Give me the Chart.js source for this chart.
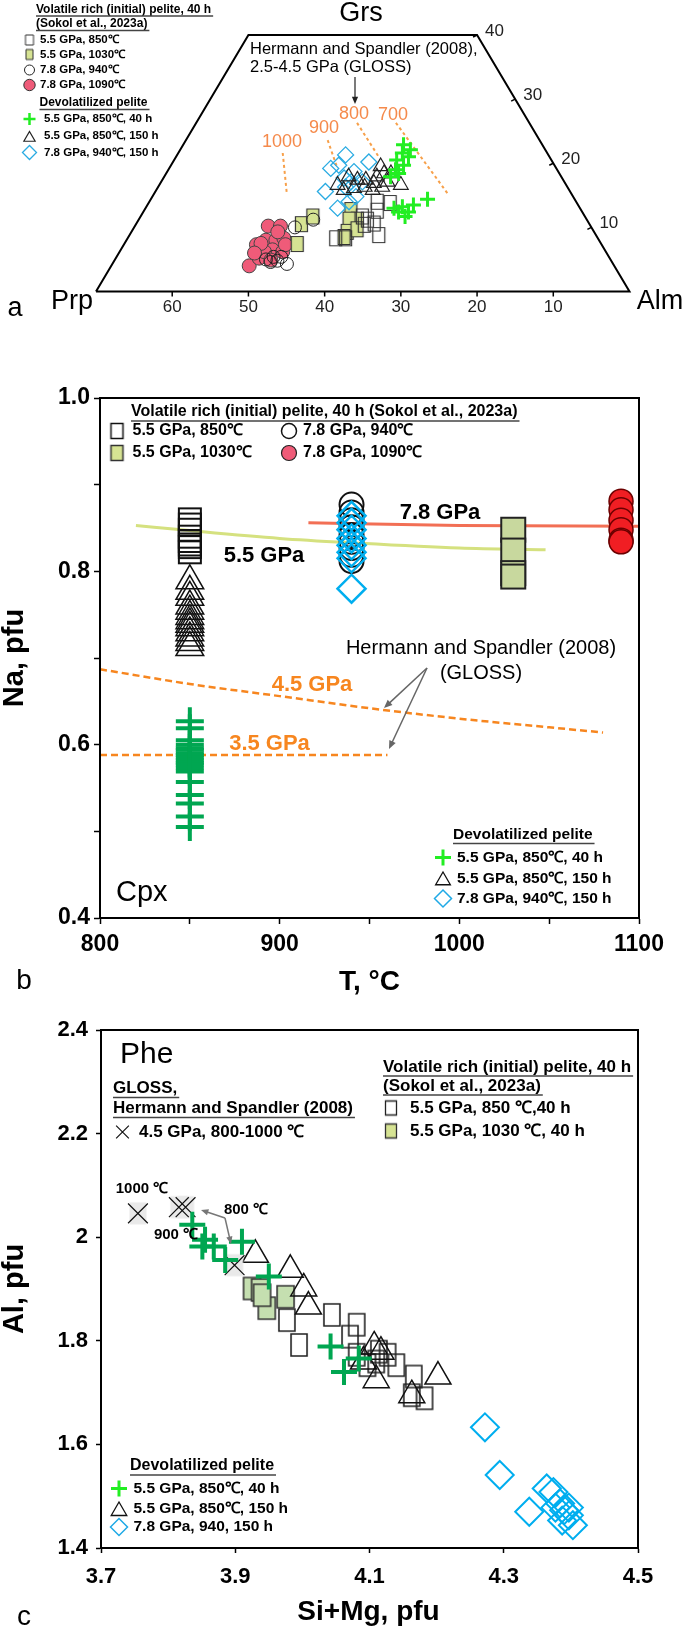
<!DOCTYPE html>
<html>
<head>
<meta charset="utf-8">
<script src="https://cdn.jsdelivr.net/npm/chart.js@4.4.0/dist/chart.umd.min.js"></script>
<style>
  html, body { margin: 0; padding: 0; background: #fff; }
  #wrap { position: relative; width: 685px; height: 1629px; overflow: hidden; }
  .panel { position: absolute; left: 0; width: 685px; }
</style>
</head>
<body>
<div id="wrap">
  <div class="panel" style="top:0;height:330px"><canvas id="grtChart"></canvas></div>
  <div class="panel" style="top:330px;height:670px"><canvas id="cpxChart"></canvas></div>
  <div class="panel" style="top:1000px;height:629px"><canvas id="pheChart"></canvas></div>
</div>
<script>
// ---------- a: garnet, points as [Prp, Grs] (Alm is the rest)
const grtFrame = [[70, 0], [30, 40], [0, 40], [0, 0], [70, 0]];
const grtPrpTicks = [60, 50, 40, 30, 20, 10];
const grtGrsTicks = [10, 20, 30, 40];
const grtSq850 = [[34.4, 8.3], [33.1, 8.3], [26.1, 14.0], [26.8, 12.6], [28.2, 10.6], [28.5, 8.8], [29.6, 10.4], [24.5, 13.8], [29.2, 11.7], [28.8, 11.2]];
const grtSq1030 = [[37.8, 10.5], [35.7, 11.7], [39.9, 7.4], [30.2, 12.7], [30.1, 11.2], [31.2, 11.2], [32.4, 9.3], [30.9, 9.7], [33.2, 8.5]];
const grtCi940 = [[44.8, 4.6], [43.8, 4.8], [42.8, 4.3], [43.0, 5.4], [45.2, 5.0], [38.9, 10.0], [35.9, 11.2], [44.0, 5.4]];
const grtCi1090 = [[47.9, 4.0], [45.3, 7.3], [46.0, 5.2], [42.3, 10.2], [40.7, 10.2], [43.7, 8.0], [42.4, 8.0], [41.2, 8.3], [43.6, 6.5], [42.4, 6.2], [44.8, 6.2], [44.6, 7.5], [41.5, 9.3], [44.6, 4.9], [46.2, 6.0], [41.5, 7.3]];
const grtPl40 = [[18.2, 22.9], [19.0, 21.6], [18.5, 21.0], [20.3, 20.5], [19.8, 19.7], [21.2, 19.0], [22.4, 17.9], [21.1, 18.4], [17.7, 22.1], [24.4, 13.0], [23.2, 13.2], [22.8, 12.4], [23.6, 11.7], [19.3, 14.4], [21.6, 13.5], [24.1, 12.4]];
const grtTr150 = [[30.0, 16.6], [27.9, 17.9], [27.0, 17.4], [25.9, 17.4], [25.1, 16.9], [22.9, 19.5], [23.0, 18.4], [22.1, 18.4], [21.7, 16.6], [24.2, 17.9], [23.2, 17.1], [29.6, 15.8], [28.1, 16.1], [24.3, 16.3], [26.6, 16.3], [25.8, 15.8]];
const grtDi150 = [[26.6, 21.3], [29.6, 19.2], [28.3, 19.7], [24.1, 20.2], [26.8, 18.7], [32.1, 15.6], [31.8, 13.0], [29.8, 14.0], [28.5, 14.8], [26.5, 17.1], [29.1, 16.3], [28.6, 17.7], [28.0, 17.1]];
const iso1000 = [[34.7, 21.6], [37.4, 15.1]];
const iso900 = [[27.8, 23.6], [28.7, 19.3]];
const iso800 = [[22.6, 26.3], [22.4, 21.0]];
const iso700 = [[17.5, 26.3], [16.2, 15.1]];

// ---------- b: Cpx, Na (pfu) by run temperature
const cpxTTicks = [800, 850, 900, 950, 1000, 1050, 1100];
const cpxTLabels = [800, 900, 1000, 1100];
const cpxNaTicks = [0.4, 0.5, 0.6, 0.7, 0.8, 0.9, 1.0];
const cpxNaLabels = [0.4, 0.6, 0.8, 1.0];
const cpxSq850 = [0.860, 0.854, 0.848, 0.840, 0.835, 0.831, 0.828, 0.822];
const cpxTr850 = [0.789, 0.777, 0.770, 0.760, 0.754, 0.748, 0.743, 0.739, 0.735, 0.729, 0.723, 0.718, 0.712];
const cpxPl850 = [0.627, 0.619, 0.605, 0.600, 0.596, 0.594, 0.590, 0.588, 0.585, 0.582, 0.579, 0.577, 0.573, 0.569, 0.557, 0.542, 0.532, 0.517, 0.505];
const cpxCi940 = [0.877, 0.868, 0.859, 0.851, 0.842, 0.834, 0.827, 0.819, 0.812];
const cpxDi940 = [0.864, 0.856, 0.848, 0.838, 0.830, 0.822, 0.815, 0.780];
const cpxSq1030 = [0.848, 0.824, 0.798, 0.794];
const cpxCi1090 = [0.881, 0.871, 0.859, 0.848, 0.836, 0.834];
const line55T = [820, 850, 900, 940, 1000, 1048];
const line55Na = [0.853, 0.847, 0.838, 0.833, 0.827, 0.825];
const line78T = [916, 1000, 1100];
const line78Na = [0.856, 0.853, 0.852];
const gloss45T = [800, 850, 900, 950, 1000, 1050, 1080];
const gloss45Na = [0.687, 0.670, 0.656, 0.642, 0.630, 0.620, 0.614];
const gloss35T = [800, 960];
const gloss35Na = [0.588, 0.588];

// ---------- c: Phe, points as [Si+Mg, Al]
const pheXTicks = [3.7, 3.9, 4.1, 4.3, 4.5];
const pheYTicks = [1.4, 1.6, 1.8, 2.0, 2.2, 2.4];
const pheGloss = [[3.755, 2.046], [3.816, 2.058], [3.826, 2.058], [3.899, 1.946]];
const phePl40 = [[3.836, 2.024], [3.855, 1.995], [3.851, 1.982], [3.868, 1.982], [3.885, 1.956], [3.910, 1.991], [3.950, 1.924], [4.042, 1.789], [4.062, 1.740], [4.084, 1.766]];
const pheTr150 = [[3.930, 1.966], [3.982, 1.937], [4.002, 1.901], [4.009, 1.866], [4.107, 1.789], [4.091, 1.760], [4.110, 1.724], [4.163, 1.695], [4.202, 1.731], [4.117, 1.779]];
const pheSq850 = [[3.977, 1.840], [3.995, 1.792], [4.044, 1.850], [4.081, 1.831], [4.071, 1.808], [4.081, 1.773], [4.097, 1.753], [4.114, 1.779], [4.127, 1.773], [4.140, 1.753], [4.166, 1.731], [4.163, 1.695], [4.182, 1.689], [4.110, 1.760]];
const pheSq1030 = [[3.925, 1.901], [3.937, 1.898], [3.947, 1.863], [3.975, 1.885], [3.940, 1.888]];
const pheDi150 = [[4.272, 1.633], [4.294, 1.541], [4.338, 1.470], [4.364, 1.515], [4.374, 1.508], [4.384, 1.486], [4.390, 1.473], [4.397, 1.463], [4.403, 1.444], [4.377, 1.478], [4.387, 1.453], [4.397, 1.478]];

const FONT = "'Liberation Sans', Arial, Helvetica, sans-serif";

// rectangular marker that is not square -> small canvas used as pointStyle
function box(w, h, fill, stroke, lw) {
  const c = document.createElement('canvas');
  c.width = Math.ceil(w + lw * 2 + 2);
  c.height = Math.ceil(h + lw * 2 + 2);
  const g = c.getContext('2d');
  g.beginPath();
  g.rect((c.width - w) / 2, (c.height - h) / 2, w, h);
  if (fill) { g.fillStyle = fill; g.fill(); }
  g.strokeStyle = stroke; g.lineWidth = lw; g.stroke();
  return { img: c };
}
function mark(shape, r, stroke, lw, fill) {
  return { shape, r, stroke, lw, fill };
}

function drawMark(ctx, m, x, y) {
  ctx.save();
  if (m.img) {
    ctx.drawImage(m.img, x - m.img.width / 2, y - m.img.height / 2);
    ctx.restore();
    return;
  }
  const r = m.r;
  ctx.lineWidth = m.lw;
  ctx.strokeStyle = m.stroke;
  ctx.beginPath();
  if (m.shape === 'circle') ctx.arc(x, y, r, 0, Math.PI * 2);
  if (m.shape === 'triangle') { ctx.moveTo(x, y - r); ctx.lineTo(x + r * 0.866, y + r / 2); ctx.lineTo(x - r * 0.866, y + r / 2); ctx.closePath(); }
  if (m.shape === 'rectRot') { ctx.moveTo(x - r, y); ctx.lineTo(x, y - r); ctx.lineTo(x + r, y); ctx.lineTo(x, y + r); ctx.closePath(); }
  if (m.shape === 'cross') { ctx.moveTo(x, y - r); ctx.lineTo(x, y + r); ctx.moveTo(x - r, y); ctx.lineTo(x + r, y); }
  if (m.shape === 'crossRot') { const d = r * 0.707; ctx.moveTo(x - d, y - d); ctx.lineTo(x + d, y + d); ctx.moveTo(x + d, y - d); ctx.lineTo(x - d, y + d); }
  if (m.fill) { ctx.fillStyle = m.fill; ctx.fill(); }
  ctx.stroke();
  ctx.restore();
}

function drawText(ctx, t) {
  ctx.save();
  ctx.font = t.font;
  ctx.fillStyle = t.color || '#000';
  ctx.textAlign = t.align || 'left';
  ctx.textBaseline = 'middle';
  ctx.translate(t.x, t.y);
  if (t.rot) ctx.rotate(t.rot);
  ctx.fillText(t.text, 0, 0);
  if (t.ul) {
    const w = ctx.measureText(t.text).width;
    const x0 = t.align === 'center' ? -w / 2 : 0;
    ctx.strokeStyle = '#444';
    ctx.lineWidth = 1.3;
    ctx.beginPath();
    ctx.moveTo(x0, t.ul);
    ctx.lineTo(x0 + w + 2, t.ul);
    ctx.stroke();
  }
  ctx.restore();
}

function arrow(ctx, x0, y0, x1, y1, color, lw, head) {
  const a = Math.atan2(y1 - y0, x1 - x0);
  ctx.save();
  ctx.strokeStyle = color; ctx.fillStyle = color; ctx.lineWidth = lw;
  ctx.beginPath(); ctx.moveTo(x0, y0); ctx.lineTo(x1 - Math.cos(a) * head * 0.8, y1 - Math.sin(a) * head * 0.8); ctx.stroke();
  ctx.beginPath();
  ctx.moveTo(x1, y1);
  ctx.lineTo(x1 - head * Math.cos(a - 0.4), y1 - head * Math.sin(a - 0.4));
  ctx.lineTo(x1 - head * Math.cos(a + 0.4), y1 - head * Math.sin(a + 0.4));
  ctx.closePath(); ctx.fill();
  ctx.restore();
}

// text, legend rows and arrows; page coordinates, shifted by the panel top
function overlay(id, offY, items, legend, arrows, extra) {
  return {
    id,
    afterDraw(chart) {
      const ctx = chart.ctx;
      if (extra) extra(chart, ctx);
      ctx.save();
      ctx.translate(0, -offY);
      items.forEach(t => drawText(ctx, t));
      legend.forEach(l => drawMark(ctx, l.m, l.x, l.y));
      arrows.forEach(a => arrow(ctx, ...a));
      ctx.restore();
    }
  };
}

function pointSet(data, m, map) {
  return {
    data: data.map(map),
    pointStyle: m.img || m.shape,
    pointRadius: m.r || 6,
    pointHoverRadius: m.r || 6,
    pointBorderWidth: m.lw || 1,
    pointBorderColor: m.stroke || '#000',
    pointBackgroundColor: m.fill || 'rgba(0,0,0,0)',
    showLine: false,
    clip: false
  };
}
function lineSet(xs, ys, color, width, dash, tension) {
  return {
    data: xs.map((x, i) => ({ x, y: ys[i] })),
    showLine: true,
    pointRadius: 0,
    borderColor: color,
    borderWidth: width,
    borderDash: dash || [],
    tension: tension || 0,
    cubicInterpolationMode: tension ? 'monotone' : 'default',
    clip: false
  };
}

const bold = s => `bold ${s}px ${FONT}`;
const norm = s => `${s}px ${FONT}`;

// ================= a =================
const tern = p => ({ x: p[0] + p[1] / 2, y: p[1] });

const aSqOpen = box(12, 15, null, '#333', 1.2);
const aSqFill = box(12, 15, '#d6e393', '#333', 1.2);
const aCiOpen = mark('circle', 6.5, '#222', 1);
const aCiRed = mark('circle', 7, '#444', 1, '#ef5b79');
const aPlus = mark('cross', 7.5, '#22ee22', 3);
const aTri = mark('triangle', 8.5, '#222', 1.2);
const aDia = mark('rectRot', 8, '#29abe2', 1.3);

const grtOverlay = overlay('grtText', 0, [
  { text: 'Volatile rich (initial) pelite, 40 h', x: 36, y: 9.5, font: bold(12), ul: 6.5 },
  { text: '(Sokol et al., 2023a)', x: 36, y: 24, font: bold(12), ul: 6.5 },
  { text: '5.5 GPa, 850\u2103', x: 40, y: 40, font: bold(11.5) },
  { text: '5.5 GPa, 1030\u2103', x: 40, y: 54.5, font: bold(11.5) },
  { text: '7.8 GPa, 940\u2103', x: 40, y: 70, font: bold(11.5) },
  { text: '7.8 GPa, 1090\u2103', x: 40, y: 85, font: bold(11.5) },
  { text: 'Devolatilized pelite', x: 39.5, y: 103, font: bold(12), ul: 6.5 },
  { text: '5.5 GPa, 850\u2103, 40 h', x: 44, y: 119, font: bold(11.5) },
  { text: '5.5 GPa, 850\u2103, 150 h', x: 44, y: 136, font: bold(11.5) },
  { text: '7.8 GPa, 940\u2103, 150 h', x: 44, y: 152.5, font: bold(11.5) },
  { text: 'Grs', x: 361, y: 14, font: norm(27), align: 'center' },
  { text: 'Prp', x: 72, y: 302, font: norm(27), align: 'center' },
  { text: 'Alm', x: 660, y: 302, font: norm(27), align: 'center' },
  { text: 'Hermann and Spandler (2008),', x: 250, y: 49, font: norm(16.5) },
  { text: '2.5-4.5 GPa (GLOSS)', x: 250, y: 67, font: norm(16.5) },
  { text: '1000', x: 282, y: 142, font: norm(18), color: '#f58a4b', align: 'center' },
  { text: '900', x: 324, y: 128, font: norm(18), color: '#f58a4b', align: 'center' },
  { text: '800', x: 354, y: 114.5, font: norm(18), color: '#f58a4b', align: 'center' },
  { text: '700', x: 393, y: 115, font: norm(18), color: '#f58a4b', align: 'center' },
  { text: 'a', x: 15, y: 309, font: norm(27), align: 'center' }
], [
  { m: box(8, 10, null, '#333', 1), x: 29.5, y: 40 },
  { m: box(7, 10, '#d6e393', '#333', 1), x: 29.5, y: 54.5 },
  { m: mark('circle', 5, '#222', 1), x: 29.5, y: 70 },
  { m: mark('circle', 5.7, '#333', 1, '#ef5b79'), x: 29.5, y: 85 },
  { m: mark('cross', 6, '#22ee22', 2.5), x: 29.5, y: 119 },
  { m: mark('triangle', 6.5, '#222', 1.2), x: 29.5, y: 138 },
  { m: mark('rectRot', 7, '#29abe2', 1.3), x: 29.5, y: 152.5 }
], [
  [355, 77, 355, 104, '#222', 1.2, 8]
], (chart, ctx) => {
  // ternary edge ticks from the chart scales
  const xs = chart.scales.x, ys = chart.scales.y;
  ctx.save();
  ctx.strokeStyle = '#000'; ctx.fillStyle = '#222'; ctx.lineWidth = 1.5;
  ctx.font = norm(17); ctx.textAlign = 'center'; ctx.textBaseline = 'middle';
  grtPrpTicks.forEach(p => {
    const px = xs.getPixelForValue(p), py = ys.getPixelForValue(0);
    ctx.beginPath(); ctx.moveTo(px, py); ctx.lineTo(px, py + 5); ctx.stroke();
    ctx.fillText(String(p), px, py + 16);
  });
  ctx.textAlign = 'left';
  grtGrsTicks.forEach(g => {
    const px = xs.getPixelForValue(g / 2), py = ys.getPixelForValue(g);
    ctx.beginPath(); ctx.moveTo(px, py); ctx.lineTo(px - 4, py + 2); ctx.stroke();
    ctx.fillText(String(g), px + 8, py - 4);
  });
  ctx.restore();
});

new Chart(document.getElementById('grtChart'), {
  type: 'scatter',
  data: {
    datasets: [
      pointSet(grtPl40, aPlus, tern),
      pointSet(grtTr150, aTri, tern),
      pointSet(grtDi150, aDia, tern),
      pointSet(grtSq850, aSqOpen, tern),
      pointSet(grtCi940, aCiOpen, tern),
      pointSet(grtSq1030, aSqFill, tern),
      pointSet(grtCi1090, aCiRed, tern),
      lineSet(iso1000.map(p => tern(p).x), iso1000.map(p => p[1]), '#f7a04a', 2, [3, 3]),
      lineSet(iso900.map(p => tern(p).x), iso900.map(p => p[1]), '#f7a04a', 2, [3, 3]),
      lineSet(iso800.map(p => tern(p).x), iso800.map(p => p[1]), '#f7a04a', 2, [3, 3]),
      lineSet(iso700.map(p => tern(p).x), iso700.map(p => p[1]), '#f7a04a', 2, [3, 3]),
      lineSet(grtFrame.map(p => tern(p).x), grtFrame.map(p => p[1]), '#000', 2)
    ]
  },
  options: {
    responsive: true,
    maintainAspectRatio: false,
    animation: false,
    events: [],
    layout: { padding: { left: 96, right: 55.5, top: 35, bottom: 38.5 } },
    scales: {
      x: { type: 'linear', reverse: true, min: 0, max: 70, display: false },
      y: { type: 'linear', min: 0, max: 40, display: false }
    },
    plugins: { legend: { display: false }, tooltip: { enabled: false } }
  },
  plugins: [grtOverlay]
});

// ================= b =================
const bSqOpen = box(22, 22, null, '#111', 2);
const bSqFill = box(24, 24, '#c8d89e', '#222', 2);
const bCiOpen = mark('circle', 12, '#111', 2);
const bCiRed = mark('circle', 12, '#6b0000', 1.5, '#f01e23');
const bPlus = mark('cross', 14, '#00a651', 4);
const bTri = mark('triangle', 16, '#111', 1.5);
const bDia = mark('rectRot', 14, '#00aeef', 2.5);

const frame = {
  id: 'frame',
  afterDraw(chart) {
    const a = chart.chartArea, ctx = chart.ctx;
    ctx.save();
    ctx.strokeStyle = '#000'; ctx.lineWidth = 2;
    ctx.strokeRect(a.left, a.top, a.right - a.left, a.bottom - a.top);
    ctx.restore();
  }
};

const cpxOverlay = overlay('cpxText', 330, [
  { text: 'Volatile rich (initial) pelite, 40 h (Sokol et al., 2023a)', x: 131, y: 412, font: bold(16), ul: 9 },
  { text: '5.5 GPa, 850\u2103', x: 132.5, y: 431, font: bold(16) },
  { text: '7.8 GPa, 940\u2103', x: 303, y: 431, font: bold(16) },
  { text: '5.5 GPa, 1030\u2103', x: 132.5, y: 453, font: bold(16) },
  { text: '7.8 GPa, 1090\u2103', x: 303, y: 453, font: bold(16) },
  { text: '7.8 GPa', x: 440, y: 513, font: bold(22), align: 'center' },
  { text: '5.5 GPa', x: 264, y: 556, font: bold(22), align: 'center' },
  { text: 'Hermann and Spandler (2008)', x: 481, y: 648.5, font: norm(20), align: 'center' },
  { text: '(GLOSS)', x: 481, y: 673, font: norm(20), align: 'center' },
  { text: '4.5 GPa', x: 312, y: 684.5, font: bold(22), color: '#f7861f', align: 'center' },
  { text: '3.5 GPa', x: 269.5, y: 743.5, font: bold(22), color: '#f7861f', align: 'center' },
  { text: 'Cpx', x: 116, y: 893, font: norm(29) },
  { text: 'Devolatilized pelite', x: 453, y: 835, font: bold(15.5), ul: 8.5 },
  { text: '5.5 GPa, 850\u2103, 40 h', x: 457, y: 857.5, font: bold(15.5) },
  { text: '5.5 GPa, 850\u2103, 150 h', x: 457, y: 878.5, font: bold(15.5) },
  { text: '7.8 GPa, 940\u2103, 150 h', x: 457, y: 898.5, font: bold(15.5) },
  { text: 'Na, pfu', x: 15, y: 658, font: bold(29), align: 'center', rot: -Math.PI / 2 },
  { text: 'T, \u00b0C', x: 369.5, y: 982, font: bold(28), align: 'center' },
  { text: 'b', x: 24, y: 981, font: norm(28), align: 'center' }
], [
  { m: box(12, 15, null, '#111', 1.5), x: 117, y: 431 },
  { m: mark('circle', 7.5, '#111', 1.5), x: 289, y: 431 },
  { m: box(12, 15, '#d6e393', '#333', 1.5), x: 117, y: 453 },
  { m: mark('circle', 7.5, '#222', 1.2, '#ef5b78'), x: 289, y: 453 },
  { m: mark('cross', 8, '#22ee22', 3), x: 443, y: 857.5 },
  { m: mark('triangle', 8.5, '#111', 1.3), x: 443, y: 880.5 },
  { m: mark('rectRot', 8.5, '#1fa9e6', 1.5), x: 443, y: 898.5 }
], [
  [427, 668, 384, 708, '#666', 1.5, 9],
  [427, 668, 389, 749, '#666', 1.5, 9]
]);

const at = t => (v => ({ x: t, y: v }));

new Chart(document.getElementById('cpxChart'), {
  type: 'scatter',
  data: {
    datasets: [
      pointSet(cpxPl850, bPlus, at(850)),
      pointSet(cpxTr850, bTri, at(850)),
      pointSet(cpxSq850, bSqOpen, at(850)),
      pointSet(cpxDi940, bDia, at(940)),
      pointSet(cpxCi940, bCiOpen, at(940)),
      pointSet(cpxSq1030, bSqFill, at(1030)),
      pointSet(cpxCi1090, bCiRed, at(1090)),
      lineSet(line78T, line78Na, '#f26f55', 3, null, 0.4),
      lineSet(line55T, line55Na, '#d5e17f', 3, null, 0.4),
      lineSet(gloss45T, gloss45Na, '#f7861f', 2.5, [7, 4], 0.4),
      lineSet(gloss35T, gloss35Na, '#f7861f', 2.5, [7, 4])
    ]
  },
  options: {
    responsive: true,
    maintainAspectRatio: false,
    animation: false,
    events: [],
    layout: { padding: { left: 0, right: 46, top: 68, bottom: 0 } },
    scales: {
      x: {
        type: 'linear', min: 800, max: 1100,
        afterBuildTicks: s => { s.ticks = cpxTTicks.map(v => ({ value: v })); },
        afterFit: s => { s.height = 82; },
        grid: { drawOnChartArea: false, drawTicks: true, tickLength: 6, tickWidth: 1.5, tickColor: '#000' },
        border: { color: '#000', width: 2 },
        ticks: {
          autoSkip: false, maxRotation: 0, padding: 7, color: '#000',
          font: { family: FONT, size: 23, weight: 'bold' },
          callback: v => cpxTLabels.includes(v) ? String(v) : ''
        }
      },
      y: {
        type: 'linear', min: 0.4, max: 1.0,
        afterBuildTicks: s => { s.ticks = cpxNaTicks.map(v => ({ value: v })); },
        afterFit: s => { s.width = 100; },
        grid: { drawOnChartArea: false, drawTicks: true, tickLength: 6, tickWidth: 1.5, tickColor: '#000' },
        border: { color: '#000', width: 2 },
        ticks: {
          autoSkip: false, padding: 4, color: '#000',
          font: { family: FONT, size: 23, weight: 'bold' },
          callback: v => cpxNaLabels.includes(v) ? v.toFixed(1) : ''
        }
      }
    },
    plugins: { legend: { display: false }, tooltip: { enabled: false } }
  },
  plugins: [frame, cpxOverlay]
});

// ================= c =================
const cGlossBg = box(17, 22, '#e9e9e9', 'rgba(0,0,0,0)', 0.1);
const cGloss = mark('crossRot', 14, '#111', 1.2);
const cPlus = mark('cross', 13, '#00a651', 4);
const cTri = mark('triangle', 15, '#111', 1.5);
const cSqOpen = box(16, 22, null, '#222', 1.6);
const cSqFill = box(17, 22, '#c5dfb0', '#333', 1.6);
const cDia = mark('rectRot', 14, '#00aeef', 2);
const pair = p => ({ x: p[0], y: p[1] });

const pheOverlay = overlay('pheText', 1000, [
  { text: 'Phe', x: 120, y: 1055, font: norm(30) },
  { text: 'GLOSS,', x: 113, y: 1088.5, font: bold(17), ul: 9 },
  { text: 'Hermann and Spandler (2008)', x: 113, y: 1108.5, font: bold(17), ul: 9 },
  { text: '4.5 GPa, 800-1000 \u2103', x: 139, y: 1132, font: bold(17) },
  { text: 'Volatile rich (initial) pelite, 40 h', x: 383, y: 1067, font: bold(17), ul: 9 },
  { text: '(Sokol et al., 2023a)', x: 383, y: 1086, font: bold(17), ul: 9 },
  { text: '5.5 GPa, 850 \u2103,40 h', x: 410, y: 1108, font: bold(17) },
  { text: '5.5 GPa, 1030 \u2103, 40 h', x: 410, y: 1131, font: bold(17) },
  { text: '1000 \u2103', x: 142, y: 1188.5, font: bold(15), align: 'center' },
  { text: '900 \u2103', x: 176, y: 1235, font: bold(15), align: 'center' },
  { text: '800 \u2103', x: 246, y: 1210, font: bold(15), align: 'center' },
  { text: 'Devolatilized pelite', x: 130, y: 1466, font: bold(16), ul: 9 },
  { text: '5.5 GPa, 850\u2103, 40 h', x: 133.5, y: 1488.5, font: bold(15.5) },
  { text: '5.5 GPa, 850\u2103, 150 h', x: 133.5, y: 1509, font: bold(15.5) },
  { text: '7.8 GPa, 940, 150 h', x: 133.5, y: 1527, font: bold(15.5) },
  { text: 'Al, pfu', x: 15, y: 1289, font: bold(29), align: 'center', rot: -Math.PI / 2 },
  { text: 'Si+Mg, pfu', x: 368.5, y: 1612, font: bold(28), align: 'center' },
  { text: 'c', x: 24, y: 1617, font: norm(28), align: 'center' }
], [
  { m: mark('crossRot', 9, '#111', 1.2), x: 122.5, y: 1132 },
  { m: box(11, 14, null, '#222', 1.3), x: 391, y: 1108 },
  { m: box(11, 14, '#d6e393', '#333', 1.3), x: 391, y: 1131 },
  { m: mark('cross', 8, '#22ee22', 3), x: 119, y: 1488.5 },
  { m: mark('triangle', 9, '#111', 1.3), x: 119, y: 1511 },
  { m: mark('rectRot', 8.5, '#1fa9e6', 1.5), x: 119, y: 1527 }
], [
  [225, 1218, 201, 1210, '#777', 1.5, 8],
  [225, 1218, 231, 1244, '#777', 1.5, 8]
]);

new Chart(document.getElementById('pheChart'), {
  type: 'scatter',
  data: {
    datasets: [
      pointSet(phePl40, cPlus, pair),
      pointSet(pheGloss, cGloss, pair),
      pointSet(pheGloss, cGlossBg, pair),
      pointSet(pheTr150, cTri, pair),
      pointSet(pheSq1030, cSqFill, pair),
      pointSet(pheSq850, cSqOpen, pair),
      pointSet(pheDi150, cDia, pair)
    ]
  },
  options: {
    responsive: true,
    maintainAspectRatio: false,
    animation: false,
    events: [],
    layout: { padding: { left: 0, right: 47, top: 30, bottom: 0 } },
    scales: {
      x: {
        type: 'linear', min: 3.7, max: 4.5,
        afterBuildTicks: s => { s.ticks = pheXTicks.map(v => ({ value: v })); },
        afterFit: s => { s.height = 81; },
        grid: { drawOnChartArea: false, drawTicks: true, tickLength: 5, tickWidth: 1.5, tickColor: '#000' },
        border: { color: '#000', width: 2 },
        ticks: {
          autoSkip: false, maxRotation: 0, padding: 11, color: '#000',
          font: { family: FONT, size: 22, weight: 'bold' },
          callback: v => v.toFixed(1)
        }
      },
      y: {
        type: 'linear', min: 1.4, max: 2.4,
        afterBuildTicks: s => { s.ticks = pheYTicks.map(v => ({ value: v })); },
        afterFit: s => { s.width = 101; },
        grid: { drawOnChartArea: false, drawTicks: true, tickLength: 5, tickWidth: 1.5, tickColor: '#000' },
        border: { color: '#000', width: 2 },
        ticks: {
          autoSkip: false, padding: 8, color: '#000',
          font: { family: FONT, size: 22, weight: 'bold' },
          callback: v => (v === 2 ? '2' : v.toFixed(1))
        }
      }
    },
    plugins: { legend: { display: false }, tooltip: { enabled: false } }
  },
  plugins: [frame, pheOverlay]
});
</script>
</body>
</html>
